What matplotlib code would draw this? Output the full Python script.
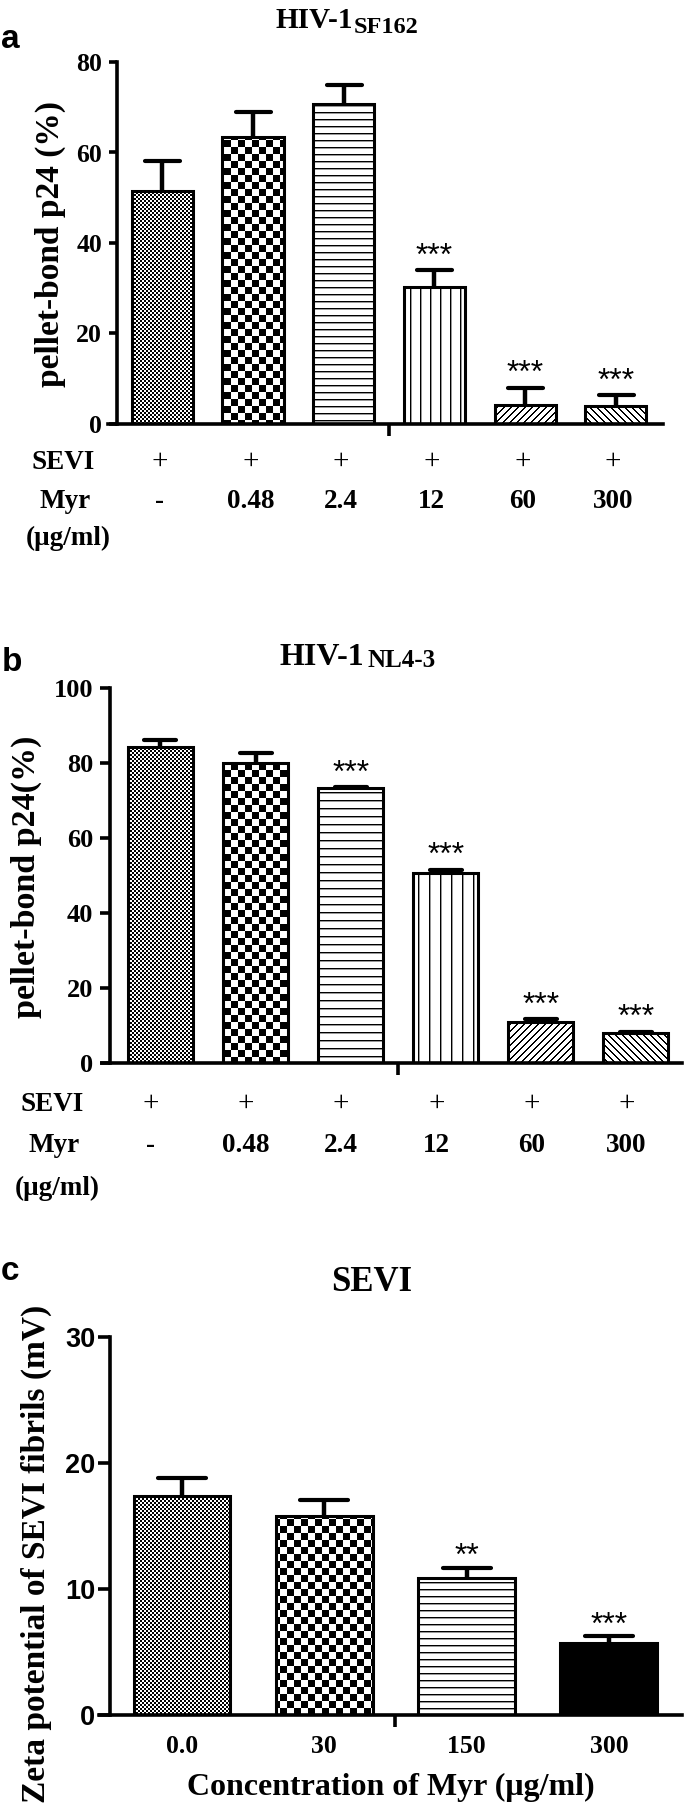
import numpy as np
import matplotlib
matplotlib.use('Agg')
import matplotlib.pyplot as plt
from matplotlib.markers import MarkerStyle

# ---------------- data ----------------
sevi_marks = ['+', '+', '+', '+', '+', '+']
myr_labels = ['-', '0.48', '2.4', '12', '60', '300']

a_vals = [51.5, 63.4, 70.7, 30.2, 4.2, 4.0]
a_err = [6.6, 5.6, 4.2, 3.8, 3.8, 2.4]
a_sig = ['', '', '', '***', '***', '***']

b_vals = [84.3, 80.0, 73.3, 50.7, 10.9, 8.0]
b_err = [1.8, 2.7, 0.3, 0.8, 0.8, 0.4]
b_sig = ['', '', '***', '***', '***', '***']

c_labels = ['0.0', '30', '150', '300']
c_vals = [17.4, 15.8, 10.9, 5.7]
c_err = [1.4, 1.3, 0.8, 0.55]
c_sig = ['', '', '**', '***']

# ---------------- layout helpers ----------------
W, H = 685, 1817
fig = plt.figure(figsize=(W / 100, H / 100), dpi=100)
SERIF = 'Liberation Serif'
SANS = 'Liberation Sans'


def fx(x):
    return x / W


def fy(y):
    return 1 - y / H


def ftext(x, y, s, **kw):
    return fig.text(fx(x), fy(y), s, **kw)


def make_axes(L, R, T, B):
    ax = fig.add_axes([fx(L), fy(B), (R - L) / W, (B - T) / H])
    ax.patch.set_visible(False)
    return ax


def pattern_array(kind, R, C, p):
    out = np.ones(R.shape, dtype=float)
    if kind == 'fine':
        out[((R // 2 + C // 2) % 2 == 0)] = 0.0
    elif kind == 'coarse':
        out[((R // p + C // p) % 2 == 0)] = 0.0
    elif kind == 'hlines':
        out[(R % p == 1)] = 0.6
        out[(R % p == 0)] = 0.0
    elif kind == 'vlines':
        out[(C % p == 1)] = 0.6
        out[(C % p == 0)] = 0.0
    elif kind == 'diag':
        out[((R + C) % p < 2)] = 0.0
    elif kind == 'rdiag':
        out[((C - R) % p < 2)] = 0.0
    else:  # solid
        out[:] = 0.0
    return out


def draw_bars(ax, vals, err, width, kinds, periods, capsize):
    x = np.arange(len(vals))
    bars = ax.bar(x, vals, width, fill=False, edgecolor='black', linewidth=2.2, zorder=3)
    for bar, kind, p in zip(bars, kinds, periods):
        (dx0, dy0), (dx1, dy1) = ax.transData.transform(
            [(bar.get_x(), bar.get_y()),
             (bar.get_x() + bar.get_width(), bar.get_y() + bar.get_height())])
        px0, px1 = int(round(dx0)), int(round(dx1))
        py0, py1 = int(round(dy0)), int(round(dy1))
        if px1 <= px0 or py1 <= py0:
            continue
        cols = np.arange(px0, px1)
        rows = H - np.arange(py1, py0, -1)
        Rg, Cg = np.meshgrid(rows, cols, indexing='ij')
        arr = pattern_array(kind, Rg, Cg, p)
        rgb = np.repeat(arr[:, :, None], 3, axis=2)
        fig.figimage(rgb, xo=px0, yo=py0, origin='upper', zorder=-1)
    _, caps, _ = ax.errorbar(x, vals, yerr=[np.zeros(len(vals)), err], fmt='none',
                             ecolor='black', elinewidth=3.2, capsize=capsize,
                             capthick=3.0, zorder=4)
    for c in caps:
        if np.allclose(c.get_ydata(), vals):
            c.remove()
        else:
            c.set_marker(MarkerStyle('_', capstyle='round'))
    return x


def style_axes(ax, ymax, yticks, spine_frac, midx, ylen, ypad, yfont, ysize):
    for s in ['top', 'right']:
        ax.spines[s].set_visible(False)
    for s in ['left', 'bottom']:
        ax.spines[s].set_linewidth(2.6)
    ax.spines['left'].set_position(('axes', spine_frac))
    ax.spines['left'].set_bounds(0, ymax)
    ax.set_yticks(yticks)
    ax.tick_params(axis='y', direction='out', length=ylen, width=2.6, pad=ypad)
    for lab in ax.get_yticklabels():
        lab.set_fontfamily(yfont)
        lab.set_fontweight('bold')
        lab.set_fontsize(ysize)
    ax.set_xticks([midx])
    ax.set_xticklabels([''])
    ax.tick_params(axis='x', direction='out', length=8.6, width=2.6)


def stars(ax, x, vals, err, sig, off):
    for xi, v, e, s in zip(x, vals, err, sig):
        if s:
            ax.annotate(s, xy=(xi, v + e), xytext=(0, off), textcoords='offset points',
                        ha='center', va='baseline', family=SANS, fontsize=23)


def row_text(ax, x, labels, ypx, T, B, shift, size=19.5):
    yfrac = (B - ypx) / (B - T)
    for xi, s in zip(x, labels):
        w = 'normal' if s == '+' else 'bold'
        sz = 21 if s == '+' else size
        ax.text(xi + shift, yfrac, s, transform=ax.get_xaxis_transform(), ha='center',
                va='baseline', family=SERIF, fontweight=w, fontsize=sz, clip_on=False)


# ---------------- panel a ----------------
La, Ra, Ta, Ba = 108, 663, 62, 424
axa = make_axes(La, Ra, Ta, Ba)
axa.set_xlim(-0.6, 5.52)
axa.set_ylim(0, 80)
axa.set_autoscale_on(False)
xa = draw_bars(axa, a_vals, a_err, 0.675,
               ['fine', 'coarse', 'hlines', 'vlines', 'diag', 'rdiag'],
               [2, 7, 7, 10, 7, 7], capsize=12.6)
style_axes(axa, 80, [0, 20, 40, 60, 80], 9 / 555, 2.5, 5.8, 5, SERIF, 18.5)
stars(axa, xa, a_vals, a_err, a_sig, 4)
row_text(axa, xa, sevi_marks, 469, Ta, Ba, -0.03)
row_text(axa, xa, myr_labels, 508, Ta, Ba, -0.03)
ftext(1, 48, 'a', family=SANS, fontweight='bold', fontsize=24, ha='left', va='baseline')
ftext(275, 28, 'HIV-1', family=SERIF, fontweight='bold', fontsize=21, ha='left', va='baseline')
ftext(354, 33, 'SF162', family=SERIF, fontweight='bold', fontsize=17.5, ha='left', va='baseline')
ftext(50, 244, 'pellet-bond p24 (%)', rotation=90, ha='center', va='center',
      family=SERIF, fontweight='bold', fontsize=24)
ftext(63, 469, 'SEVI', family=SERIF, fontweight='bold', fontsize=19.5, ha='center', va='baseline')
ftext(65, 508, 'Myr', family=SERIF, fontweight='bold', fontsize=19.5, ha='center', va='baseline')
ftext(68, 545, '(μg/ml)', family=SERIF, fontweight='bold', fontsize=19.5, ha='center', va='baseline')

# ---------------- panel b ----------------
Lb, Rb, Tb, Bb = 102, 682, 688, 1063
axb = make_axes(Lb, Rb, Tb, Bb)
axb.set_xlim(-0.615, 5.484)
axb.set_ylim(0, 100)
axb.set_autoscale_on(False)
xb = draw_bars(axb, b_vals, b_err, 0.683,
               ['fine', 'coarse', 'hlines', 'vlines', 'diag', 'rdiag'],
               [2, 7, 8, 11, 7, 7], capsize=11.5)
style_axes(axb, 100, [0, 20, 40, 60, 80, 100], 8 / 580, 2.5, 7.2, 5, SERIF, 19)
stars(axb, xb, b_vals, b_err, b_sig, 4)
row_text(axb, xb, sevi_marks, 1111, Tb, Bb, -0.1)
row_text(axb, xb, myr_labels, 1152, Tb, Bb, -0.1)
ftext(2, 671, 'b', family=SANS, fontweight='bold', fontsize=24, ha='left', va='baseline')
ftext(280, 665, 'HIV-1', family=SERIF, fontweight='bold', fontsize=23, ha='left', va='baseline')
ftext(368, 667, 'NL4-3', family=SERIF, fontweight='bold', fontsize=18, ha='left', va='baseline')
ftext(26, 877, 'pellet-bond p24(%)', rotation=90, ha='center', va='center',
      family=SERIF, fontweight='bold', fontsize=24.5)
ftext(52, 1111, 'SEVI', family=SERIF, fontweight='bold', fontsize=19.5, ha='center', va='baseline')
ftext(54, 1152, 'Myr', family=SERIF, fontweight='bold', fontsize=19.5, ha='center', va='baseline')
ftext(57, 1195, '(μg/ml)', family=SERIF, fontweight='bold', fontsize=19.5, ha='center', va='baseline')

# ---------------- panel c ----------------
Lc, Rc, Tc, Bc = 99, 682, 1337, 1715
axc = make_axes(Lc, Rc, Tc, Bc)
axc.set_xlim(-0.583, 3.514)
axc.set_ylim(0, 30)
axc.set_autoscale_on(False)
xc = draw_bars(axc, c_vals, c_err, 0.68, ['fine', 'coarse', 'hlines', 'solid'],
               [2, 7, 7, 1], capsize=17)
style_axes(axc, 30, [0, 10, 20, 30], 11 / 583, 1.5, 8.6, 2, SANS, 19.5)
stars(axc, xc, c_vals, c_err, c_sig, 2)
yfrac_c = (Bc - 1753) / (Bc - Tc)
for xi, s in zip(xc, c_labels):
    axc.text(xi, yfrac_c, s, transform=axc.get_xaxis_transform(), ha='center', va='baseline',
             family=SERIF, fontweight='bold', fontsize=18.5, clip_on=False)
ftext(1, 1280, 'c', family=SANS, fontweight='bold', fontsize=24, ha='left', va='baseline')
ftext(372, 1291, 'SEVI', family=SERIF, fontweight='bold', fontsize=25, ha='center', va='baseline')
ftext(36, 1554, 'Zeta potential of SEVI fibrils (mV)', rotation=90, ha='center', va='center',
      family=SERIF, fontweight='bold', fontsize=24)
ftext(391, 1795, 'Concentration of Myr (μg/ml)', ha='center', va='baseline',
      family=SERIF, fontweight='bold', fontsize=23)

fig.savefig('out.png', dpi=100)
